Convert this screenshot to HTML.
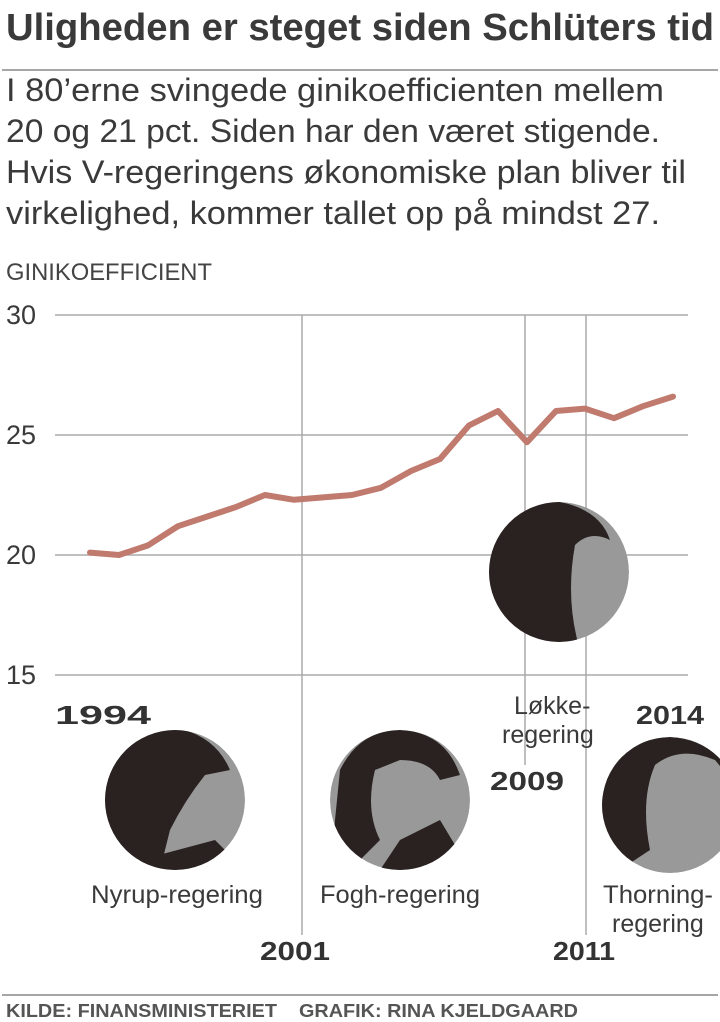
<!DOCTYPE html>
<html><head><meta charset="utf-8"><style>
body{margin:0;background:#fff;width:720px;height:1022px;overflow:hidden;font-family:"Liberation Sans Narrow","Liberation Sans",sans-serif;color:#333}
</style></head><body>
<svg width="720" height="1022" xmlns="http://www.w3.org/2000/svg" style="position:absolute;left:0;top:0">
<defs>
<clipPath id="c1"><circle cx="559" cy="572" r="70"/></clipPath>
<clipPath id="c2"><circle cx="175" cy="800" r="70"/></clipPath>
<clipPath id="c3"><circle cx="400" cy="800" r="70"/></clipPath>
<clipPath id="c4"><circle cx="670" cy="805" r="68"/></clipPath>
</defs>
<text x="6" y="40" font-family="Liberation Sans Narrow, Liberation Sans, sans-serif" font-weight="bold" font-size="38" fill="#3a3a3a" textLength="708" lengthAdjust="spacingAndGlyphs">Uligheden er steget siden Schlüters tid</text>
<line x1="2" y1="70" x2="718" y2="70" stroke="#888" stroke-width="1.5"/>
<g font-family="Liberation Sans Narrow, Liberation Sans, sans-serif" font-size="32" fill="#3a3a3a">
<text x="6" y="101" textLength="658" lengthAdjust="spacingAndGlyphs">I 80’erne svingede ginikoefficienten mellem</text>
<text x="6" y="142" textLength="654" lengthAdjust="spacingAndGlyphs">20 og 21 pct. Siden har den været stigende.</text>
<text x="6" y="183" textLength="680" lengthAdjust="spacingAndGlyphs">Hvis V-regeringens økonomiske plan bliver til</text>
<text x="6" y="224" textLength="654" lengthAdjust="spacingAndGlyphs">virkelighed, kommer tallet op på mindst 27.</text>
</g>
<text x="6" y="280" font-size="24" fill="#444" textLength="206" lengthAdjust="spacingAndGlyphs">GINIKOEFFICIENT</text>
<g stroke="#aaa" stroke-width="1.5">
<line x1="55" y1="315" x2="688" y2="315"/>
<line x1="55" y1="435" x2="688" y2="435"/>
<line x1="55" y1="555" x2="688" y2="555"/>
<line x1="55" y1="675" x2="688" y2="675"/>
<line x1="302" y1="315" x2="302" y2="935"/>
<line x1="525" y1="315" x2="525" y2="765"/>
<line x1="586" y1="315" x2="586" y2="935"/>
</g>
<g font-size="27" fill="#3a3a3a">
<text x="6" y="324">30</text><text x="6" y="444">25</text><text x="6" y="564">20</text><text x="6" y="684">15</text>
</g>
<polyline fill="none" stroke="#c07a6e" stroke-width="6" stroke-linejoin="round" stroke-linecap="round" points="90,552.6 119,555 148,545.4 178,526.2 207,516.6 236,507 265,495 294,499.8 323,497.4 352,495 381,487.8 411,471 440,459 469,425.4 498,411 527,442.2 556,411 585,408.6 614,418.2 643,406.2 673,396.6"/>
<g clip-path="url(#c1)"><circle cx="559" cy="572" r="70" fill="#999"/><path d="M489,520 Q520,495 560,502 Q600,510 610,540 Q590,530 575,545 Q565,600 580,650 L489,650Z" fill="#2a2220"/></g>
<g clip-path="url(#c2)"><circle cx="175" cy="800" r="70" fill="#999"/><path d="M105,760 Q130,725 175,728 Q215,735 230,770 L205,775 Q185,800 170,830 L160,870 L105,870Z" fill="#2a2220"/><path d="M140,860 L215,840 L245,870 L130,870Z" fill="#2a2220"/></g>
<g clip-path="url(#c3)"><circle cx="400" cy="800" r="70" fill="#999"/><path d="M340,770 Q360,730 400,730 Q445,732 460,775 L440,780 Q430,760 400,760 L375,770 Q365,810 380,840 L350,870 L330,870Z" fill="#2a2220"/><path d="M400,840 L440,820 L470,870 L380,870Z" fill="#2a2220"/></g>
<g clip-path="url(#c4)"><circle cx="670" cy="805" r="68" fill="#999"/><path d="M602,800 Q610,740 670,737 Q720,740 740,790 L715,760 Q680,745 655,765 Q640,800 650,850 L615,873 L602,873Z" fill="#2a2220"/></g>
<g font-weight="bold" font-size="26" fill="#333" font-family="Liberation Sans, sans-serif">
<text x="55" y="724" textLength="96" lengthAdjust="spacingAndGlyphs">1994</text>
<text x="636" y="724" textLength="68" lengthAdjust="spacingAndGlyphs">2014</text>
<text x="490" y="790" textLength="74" lengthAdjust="spacingAndGlyphs">2009</text>
<text x="260" y="960" textLength="70" lengthAdjust="spacingAndGlyphs">2001</text>
<text x="553" y="960" textLength="62" lengthAdjust="spacingAndGlyphs">2011</text>
</g>
<g font-size="25" fill="#3a3a3a">
<text x="514" y="714">Løkke-</text>
<text x="502" y="743">regering</text>
<text x="91" y="903" textLength="172" lengthAdjust="spacingAndGlyphs">Nyrup-regering</text>
<text x="320" y="903" textLength="160" lengthAdjust="spacingAndGlyphs">Fogh-regering</text>
<text x="603" y="903" textLength="110" lengthAdjust="spacingAndGlyphs">Thorning-</text>
<text x="612" y="932">regering</text>
</g>
<line x1="2" y1="995" x2="718" y2="995" stroke="#888" stroke-width="1.5"/>
<text x="6" y="1017" font-weight="bold" font-size="18" fill="#555" textLength="572" lengthAdjust="spacingAndGlyphs" xml:space="preserve">KILDE: FINANSMINISTERIET    GRAFIK: RINA KJELDGAARD</text>
</svg>
</body></html>
